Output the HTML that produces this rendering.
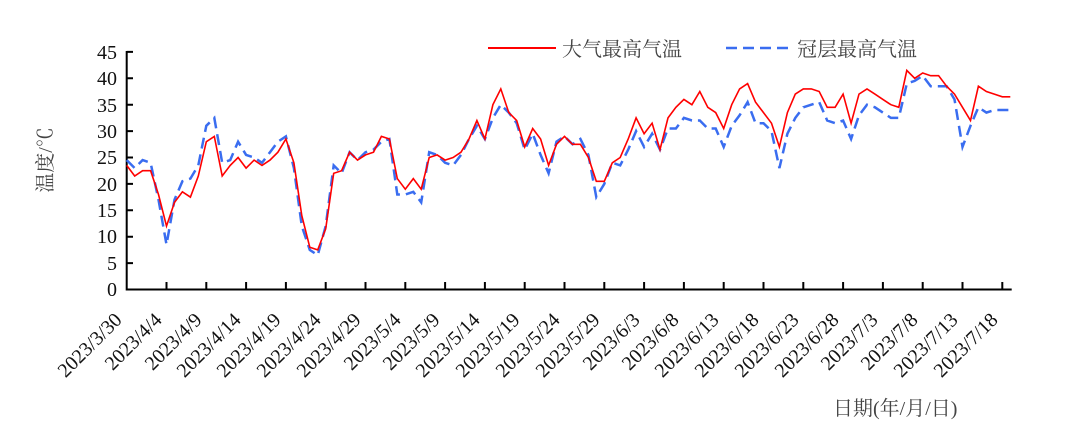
<!DOCTYPE html>
<html><head><meta charset="utf-8"><style>
html,body{margin:0;padding:0;background:#fff;}
svg{display:block;}
svg text{font-family:"Liberation Serif","Times New Roman","DejaVu Serif",serif;fill:#111;}
svg text.cn{font-family:"Liberation Serif","Noto Serif CJK SC","Noto Sans CJK SC",serif;fill:#444;}
</style></head><body>
<svg id="s" width="1075" height="434" viewBox="0 0 1075 434" xmlns="http://www.w3.org/2000/svg">
<g id="axes" stroke="#000" stroke-width="2" fill="none">
<path d="M126.7 51V289.5H1011.7"/>
</g>
<g id="yt" font-size="20" text-anchor="end">
<text x="117" y="296">0</text>
<text x="117" y="270">5</text>
<text x="117" y="243">10</text>
<text x="117" y="217">15</text>
<text x="117" y="191">20</text>
<text x="117" y="164">25</text>
<text x="117" y="138">30</text>
<text x="117" y="112">35</text>
<text x="117" y="85">40</text>
<text x="117" y="59">45</text>
</g>
<g id="xt" font-size="20" text-anchor="end">
<text transform="translate(123,321) rotate(-45)">2023/3/30</text>
<text transform="translate(163,321) rotate(-45)">2023/4/4</text>
<text transform="translate(203,321) rotate(-45)">2023/4/9</text>
<text transform="translate(242,321) rotate(-45)">2023/4/14</text>
<text transform="translate(282,321) rotate(-45)">2023/4/19</text>
<text transform="translate(322,321) rotate(-45)">2023/4/24</text>
<text transform="translate(362,321) rotate(-45)">2023/4/29</text>
<text transform="translate(402,321) rotate(-45)">2023/5/4</text>
<text transform="translate(441,321) rotate(-45)">2023/5/9</text>
<text transform="translate(481,321) rotate(-45)">2023/5/14</text>
<text transform="translate(521,321) rotate(-45)">2023/5/19</text>
<text transform="translate(561,321) rotate(-45)">2023/5/24</text>
<text transform="translate(601,321) rotate(-45)">2023/5/29</text>
<text transform="translate(641,321) rotate(-45)">2023/6/3</text>
<text transform="translate(680,321) rotate(-45)">2023/6/8</text>
<text transform="translate(720,321) rotate(-45)">2023/6/13</text>
<text transform="translate(760,321) rotate(-45)">2023/6/18</text>
<text transform="translate(800,321) rotate(-45)">2023/6/23</text>
<text transform="translate(840,321) rotate(-45)">2023/6/28</text>
<text transform="translate(879,321) rotate(-45)">2023/7/3</text>
<text transform="translate(919,321) rotate(-45)">2023/7/8</text>
<text transform="translate(959,321) rotate(-45)">2023/7/13</text>
<text transform="translate(999,321) rotate(-45)">2023/7/18</text>
</g>
<text class="cn" font-size="20" transform="translate(52,160) rotate(-90)" text-anchor="middle">温度/℃</text>
<text class="cn" font-size="20" x="833" y="415">日期(年/月/日)</text>
<line x1="488" y1="48" x2="556" y2="48" stroke="#ff0000" stroke-width="2"/>
<text class="cn" font-size="20" x="562" y="56">大气最高气温</text>
<line x1="726" y1="48" x2="792" y2="48" stroke="#3a6df0" stroke-width="2.5" stroke-dasharray="11,6"/>
<text class="cn" font-size="20" x="797" y="56">冠层最高气温</text>
<polyline id="b" fill="none" stroke="#3a6df0" stroke-width="2.5" stroke-dasharray="11,6"/>
<polyline id="r" fill="none" stroke="#ff0000" stroke-width="1.6"/>
</svg>
<script>
var R=[23.5,21.5,22.5,22.5,18,12,16.5,18.5,17.5,21.5,28,29,21.5,23.5,25,23,24.5,23.5,24.5,26,28.5,24,14,8,7.5,11.5,22,22.5,26,24.5,25.5,26,29,28.5,21,19,21,19,25,25.5,24.5,25,26,28.5,32,28.5,35,38,33.5,32,27,30.5,28.5,23.5,27.5,29,27.5,27.5,25,20.5,20.5,24,25,28.5,32.5,29.5,31.5,26.5,32.5,34.5,36,35,37.5,34.5,33.5,30.5,35,38,39,35.5,33.5,31.5,27,33.5,37,38,38,37.5,34.5,34.5,37,31.5,37,38,37,36,35,34.5,41.5,40,41,40.5,40.5,38.5,37,34.5,32,38.5,37.5,37,36.5,36.5];
var B=[24.5,23,24.5,24,17,8.5,17,20.5,21,23.5,31,32.5,24,24.5,28,25.5,25,24,26,28,29,23,12,7.5,6.5,12,23.5,22,26,24.5,26,26.5,28,28.5,18,18,18.5,16.5,26,25.5,24,23.5,25.5,28.5,31,28.5,32.5,35,33.5,31.5,26.5,29.5,25.5,22,28,29,27.5,28.5,25.5,17.5,20,24,23.5,26.5,30,27,29.5,26.5,30.5,30.5,32.5,32,32,30.5,30.5,27,31,33,35.5,31.5,31.5,30,23,29.5,32.5,34.5,35,35.5,32,31.5,32,28.5,33,35,34.5,33.5,32.5,32.5,39,39.5,40.5,38.5,38.5,38.5,36,27,31,34.5,33.5,34,34,34];
function pts(a){return a.map(function(v,i){return (126.7+7.96*i).toFixed(1)+','+(289.5-v*5.28).toFixed(1)}).join(' ');}
document.getElementById('r').setAttribute('points',pts(R));
document.getElementById('b').setAttribute('points',pts(B));
var g=document.getElementById('axes'),d='';
for(var i=1;i<=9;i++){var y=289.5-i*26.4;d+='M126.7 '+y.toFixed(1)+'H133';}
for(var k=1;k<=22;k++){var x=126.7+39.8*k;d+='M'+x.toFixed(1)+' 289.5V282';}
var p=document.createElementNS('http://www.w3.org/2000/svg','path');p.setAttribute('d',d);g.appendChild(p);
</script>
</body></html>
